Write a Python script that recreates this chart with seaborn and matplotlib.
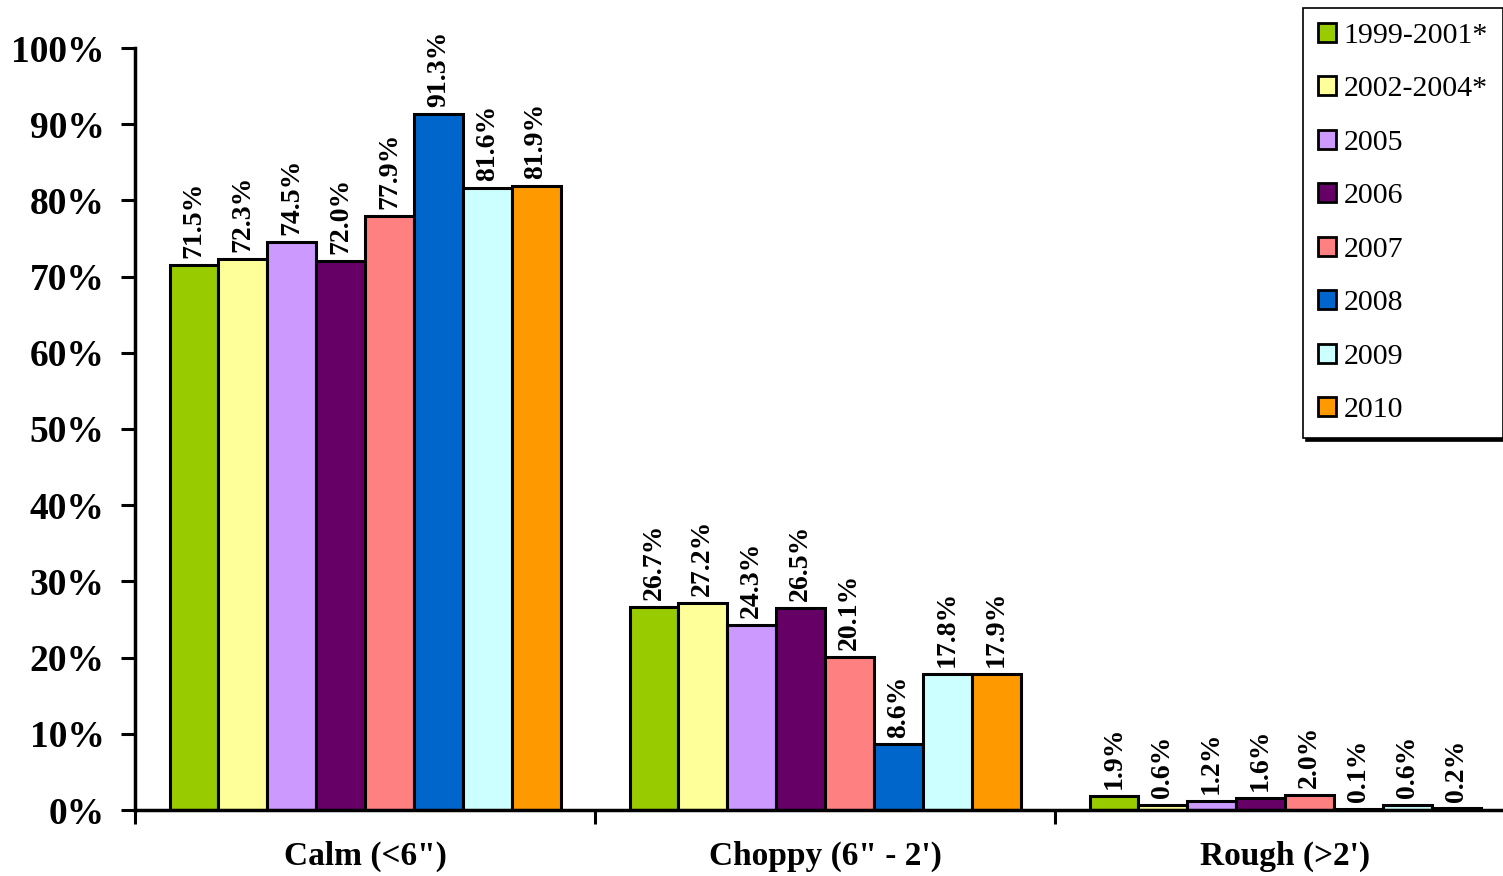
import pandas as pd
import matplotlib
matplotlib.use("Agg")
import matplotlib.pyplot as plt
import seaborn as sns

# Datos
conditions = ['Calm (<6")', "Choppy (6\" - 2')", "Rough (>2')"]
years = ["1999-2001*", "2002-2004*", "2005", "2006", "2007", "2008", "2009", "2010"]
calm = [71.5, 72.3, 74.5, 72.0, 77.9, 91.3, 81.6, 81.9]
choppy = [26.7, 27.2, 24.3, 26.5, 20.1, 8.6, 17.8, 17.9]
rough = [1.9, 0.6, 1.2, 1.6, 2.0, 0.1, 0.6, 0.2]
colors = ["#99CC00", "#FFFF99", "#CC99FF", "#660066", "#FF8080", "#0066CC", "#CCFFFF", "#FF9900"]

rows = []
for cond, vals in zip(conditions, [calm, choppy, rough]):
    for yr, v in zip(years, vals):
        rows.append({"condition": cond, "year": yr, "value": v})
df = pd.DataFrame(rows)

sns.set_style("ticks")
plt.rcParams["font.family"] = ["Liberation Serif", "DejaVu Serif"]
plt.rcParams["text.color"] = "black"
plt.rcParams["xtick.color"] = "black"
plt.rcParams["ytick.color"] = "black"
plt.rcParams["axes.edgecolor"] = "black"

fig = plt.figure(figsize=(15.03, 8.76), dpi=100)
ax = fig.add_axes([135 / 1503, 1 - 810 / 876, 1380 / 1503, 762 / 876])

sns.barplot(data=df, x="condition", y="value", hue="year", palette=colors,
            hue_order=years, order=conditions, width=0.85, saturation=1,
            edgecolor="black", linewidth=2.2, ax=ax)

# Etiquetas verticales sobre las barras
for cont, yr in zip(ax.containers, years):
    vals = df[df["year"] == yr]["value"].tolist()
    ax.bar_label(cont, labels=[f"{v:.1f}%" for v in vals], rotation=90,
                 padding=5, fontsize=20, fontweight="bold", color="black", clip_on=False)

ax.set_ylim(0, 100)
ax.set_xlim(-0.5, 2.5)
ax.set_yticks(range(0, 101, 10))
ax.set_yticklabels([f"{t}%" for t in range(0, 101, 10)], fontsize=27, fontweight="bold")
ax.set_xticks([0, 1, 2])
ax.set_xticklabels(conditions, fontsize=24, fontweight="bold")
ax.tick_params(axis="x", length=0, pad=22)
ax.set_xticks([-0.5, 0.5, 1.5, 2.5], minor=True)
ax.tick_params(axis="x", which="minor", length=10, width=2.2, direction="out")
ax.tick_params(axis="y", length=10, width=2.2, direction="out", pad=12)
ax.set_xlabel("")
ax.set_ylabel("")
sns.despine(ax=ax)
for s in ["left", "bottom"]:
    ax.spines[s].set_linewidth(2.5)

handles, labels = ax.get_legend_handles_labels()
ax.get_legend().remove()
leg = fig.legend(handles, labels, loc="upper right", bbox_to_anchor=(1.0, 1 - 8 / 876),
                 fontsize=21.5, frameon=True, fancybox=False, edgecolor="black",
                 shadow={"color": "black", "alpha": 1}, handlelength=0.6, handleheight=0.6,
                 handletextpad=0.25, labelspacing=0.92, borderpad=0.5, borderaxespad=0)
leg.get_frame().set_linewidth(1.2)
for h in leg.legend_handles:
    h.set_edgecolor("black")
    h.set_linewidth(2)

fig.savefig("out.png", dpi=100)
